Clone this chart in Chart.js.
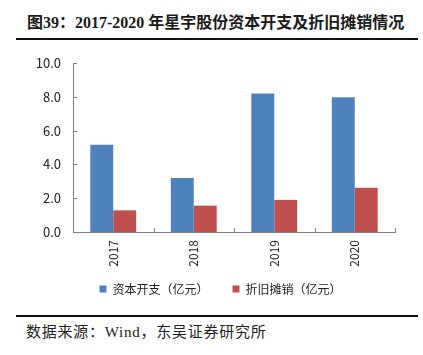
<!DOCTYPE html>
<html><head><meta charset="utf-8">
<script src="https://cdn.jsdelivr.net/npm/chart.js@4"></script>
<style>
html,body{margin:0;padding:0;background:#fff;width:423px;height:355px;overflow:hidden;}
#wrap{position:relative;width:423px;height:355px;}
#title{position:absolute;left:27px;top:9px;font:bold 16px "Liberation Serif","Noto Sans CJK SC";color:#1a1a1a;white-space:nowrap;}
#src{position:absolute;left:26px;top:320px;font:15px "Liberation Serif","Noto Sans CJK SC";letter-spacing:0.75px;color:#222;white-space:nowrap;}
.rule{position:absolute;left:16px;width:402px;background:#111;}
canvas{position:absolute;left:0;top:0;}
</style></head><body>
<div id="wrap">
<div id="title">图39：2017-2020 年星宇股份资本开支及折旧摊销情况</div>
<div class="rule" style="top:38px;height:2px"></div>
<div class="rule" style="top:315px;height:2px"></div>
<div id="src">数据来源：Wind，东吴证券研究所</div>
<canvas id="c" width="423" height="355"></canvas>
</div>
<script>
const categories = ["2017","2018","2019","2020"];
const capex = [5.17, 3.20, 8.20, 7.97];
const depreciation = [1.28, 1.56, 1.90, 2.62];
const seriesNames = ["资本开支（亿元）","折旧摊销（亿元）"];
const yTicks = [0,2,4,6,8,10];

const innerTicks = {
  id:'innerTicks',
  afterDraw(chart){
    const ctx = chart.ctx, x = chart.scales.x, y = chart.scales.y;
    ctx.save();
    ctx.strokeStyle = '#7f7f7f'; ctx.lineWidth = 1;
    ctx.beginPath();
    yTicks.forEach(v=>{ const py = Math.round(y.getPixelForValue(v))+0.5; ctx.moveTo(x.left, py); ctx.lineTo(x.left+4, py); });
    for(let i=0;i<=categories.length;i++){
      const px = Math.round(x.getPixelForValue(i-0.5))+0.5;
      ctx.moveTo(px, y.bottom); ctx.lineTo(px, y.bottom-4);
    }
    ctx.stroke();
    ctx.restore();
  }
};
// nudge the legend box to sit centred under the plot as in the original
const legendShift = {
  id:'legendShift',
  afterLayout(chart){
    const l = chart.legend; if(!l) return;
    l.left += 23; l.right += 23; l.top -= 11; l.bottom -= 11;
  }
};

new Chart(document.getElementById('c'), {
  type:'bar',
  data:{ labels:categories, datasets:[
    {label:seriesNames[0], data:capex, backgroundColor:'#4F81BD', categoryPercentage:0.57, barPercentage:1},
    {label:seriesNames[1], data:depreciation, backgroundColor:'#C0504D', categoryPercentage:0.57, barPercentage:1}
  ]},
  options:{
    responsive:false, animation:false, devicePixelRatio:1,
    layout:{padding:{top:63,left:0,right:28,bottom:39}},
    scales:{
      x:{
        grid:{display:false, drawTicks:false},
        border:{display:true,color:'#7f7f7f',width:1},
        ticks:{minRotation:90,maxRotation:90,padding:8,color:'#222',font:{family:'"Noto Sans CJK SC"',size:12}},
        afterFit(s){ s.height = 38; }
      },
      y:{
        min:0,max:10,
        grid:{display:false, drawTicks:false},
        border:{display:true,color:'#7f7f7f',width:1},
        ticks:{stepSize:2,padding:12,color:'#222',font:{family:'"Noto Sans CJK SC"',size:13},callback:v=>v.toFixed(1)},
        afterFit(s){ s.width = 73; }
      }
    },
    plugins:{
      legend:{position:'bottom',labels:{boxWidth:7,boxHeight:7,padding:24,color:'#222',font:{family:'"Noto Sans CJK SC"',size:12}}},
      tooltip:{enabled:false}
    }
  },
  plugins:[innerTicks, legendShift]
});
</script>
</body></html>
